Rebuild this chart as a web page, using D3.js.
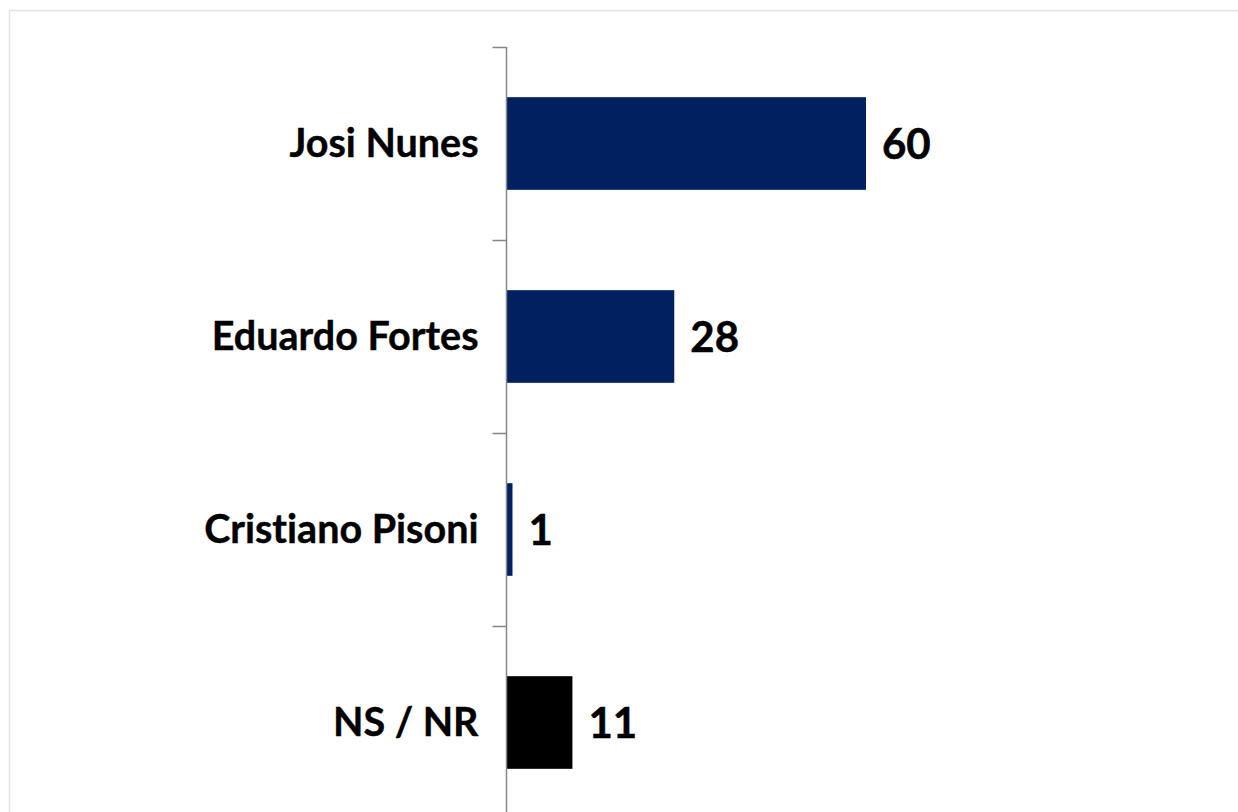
<!DOCTYPE html>
<html>
<head>
<meta charset="utf-8">
<script src="https://cdn.jsdelivr.net/npm/d3@7"></script>
<style>
  html, body { margin: 0; padding: 0; background: #ffffff; }
  svg { display: block; }
  text { font-family: Lato, "Open Sans", sans-serif; font-weight: 700; fill: #000; font-variant-ligatures: none; font-feature-settings: "liga" 0, "clig" 0; }
</style>
</head>
<body>
<svg id="chart" width="1238" height="812"></svg>
<script>
const categories = ["Josi Nunes", "Eduardo Fortes", "Cristiano Pisoni", "NS / NR"];
const values = [60, 28, 1, 11];
const barColors = ["#002060", "#002060", "#002060", "#000000"];

const svg = d3.select("#chart");
const W = 1238, H = 812;

// outer frame
svg.append("rect")
  .attr("x", 9.5).attr("y", 10.5)
  .attr("width", W + 20).attr("height", H + 20)
  .attr("fill", "#fff").attr("stroke", "#e3e3e3").attr("stroke-width", 1.5);

const axisX = 506.5;
const plotTop = 47, step = 193;

const y = d3.scaleBand()
  .domain(categories)
  .range([plotTop, plotTop + step * categories.length])
  .paddingInner(0.52)
  .paddingOuter(0.26);

const x = d3.scaleLinear().domain([0, 60]).range([axisX, 866]);

const yBound = d3.scaleLinear().domain([0, categories.length]).range([plotTop, plotTop + step * categories.length]);

// bars
svg.append("g").selectAll("rect")
  .data(categories)
  .join("rect")
  .attr("x", x(0))
  .attr("y", d => y(d))
  .attr("width", (d, i) => x(values[i]) - x(0))
  .attr("height", y.bandwidth())
  .attr("fill", (d, i) => barColors[i]);

// axis with ticks at category boundaries
const axis = d3.axisLeft(yBound)
  .tickValues(d3.range(categories.length + 1))
  .tickSize(14)
  .tickFormat("");
const gAxis = svg.append("g")
  .attr("transform", `translate(${axisX},0)`)
  .call(axis);
gAxis.select(".domain").attr("stroke", "#868686").attr("stroke-width", 1.5).attr("d", `M0,${plotTop}V${H + 20}`);
gAxis.selectAll(".tick line").attr("stroke", "#868686").attr("stroke-width", 1.5);

// category labels
svg.append("g").selectAll("text")
  .data(categories)
  .join("text")
  .attr("x", axisX - 28)
  .attr("y", d => y(d) + y.bandwidth() / 2)
  .attr("dy", "0.35em")
  .attr("text-anchor", "end")
  .attr("font-size", 39.5)
  .attr("stroke", "#000").attr("stroke-width", 0.4)
  .text(d => d);

// value labels
svg.append("g").selectAll("text")
  .data(categories)
  .join("text")
  .attr("x", (d, i) => x(values[i]) + 16)
  .attr("y", d => y(d) + y.bandwidth() / 2)
  .attr("dy", "0.36em")
  .attr("text-anchor", "start")
  .attr("font-size", 42)
  .attr("stroke", "#000").attr("stroke-width", 0.5)
  .text((d, i) => values[i]);
</script>
</body>
</html>
